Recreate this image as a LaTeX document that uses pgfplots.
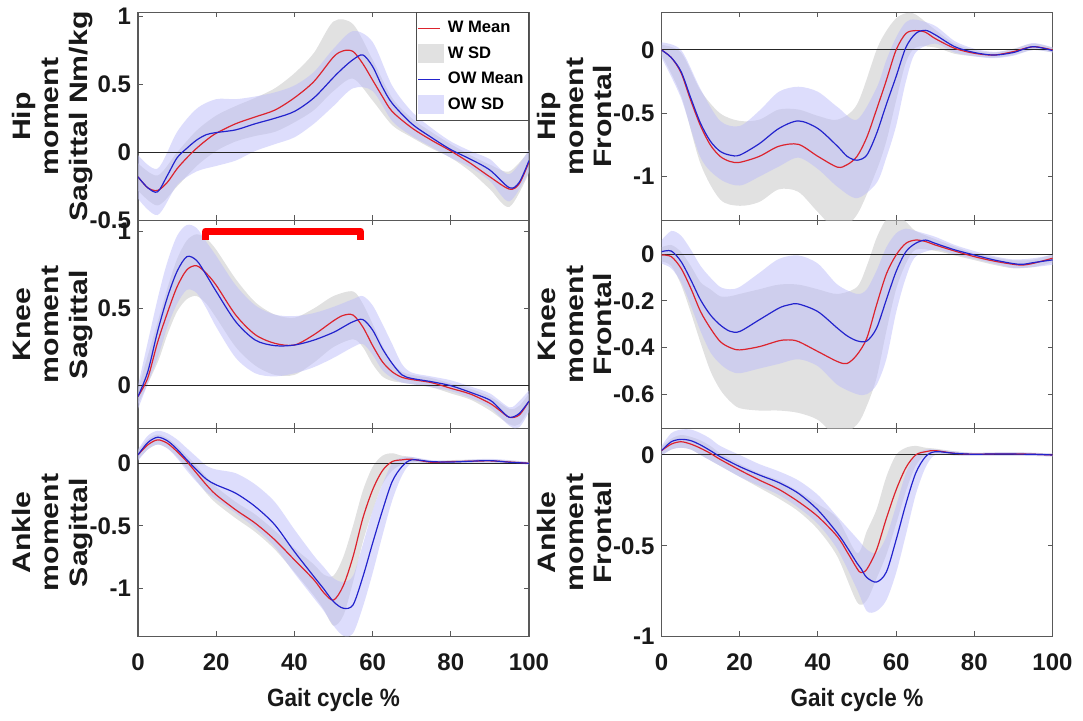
\documentclass[border=0pt]{standalone}
\usepackage{fontspec}
\setmainfont{Liberation Sans}
\newfontfamily\xlabfont{Liberation Sans}[FakeStretch=0.9]
\newfontfamily\ylabfont{Liberation Sans}[FakeStretch=1.2]
\usepackage{pgfplots}
\pgfplotsset{compat=1.18}
\usepackage{pgfplotstable}
\usepgfplotslibrary{fillbetween}
\usetikzlibrary{calc}

\definecolor{wmean}{RGB}{220,35,45}
\definecolor{omean}{RGB}{35,35,205}
\definecolor{wsd}{RGB}{195,195,195}
\definecolor{osd}{RGB}{188,188,249}
\definecolor{wsdL}{RGB}{225,225,225}
\definecolor{osdL}{RGB}{221,221,252}

% ---------------- Hip sagittal
\pgfplotstableread{
x w o
0 -0.18 -0.18
2.5 -0.26 -0.26
5 -0.28 -0.29
7.5 -0.22 -0.17
10 -0.12 -0.04
12.5 -0.04 0.03
15 0.03 0.09
17.5 0.09 0.13
20 0.14 0.145
25 0.21 0.165
30 0.26 0.21
35 0.31 0.25
40 0.40 0.30
45 0.52 0.40
50 0.70 0.55
52.5 0.745 0.62
55 0.74 0.68
57.5 0.65 0.715
60 0.53 0.63
62.5 0.41 0.48
65 0.30 0.36
70 0.18 0.21
75 0.09 0.11
80 0.01 0.02
85 -0.08 -0.05
90 -0.18 -0.13
95 -0.27 -0.26
97.5 -0.23 -0.22
100 -0.07 -0.06
}\meanHS
\pgfplotstableread{
x wlo whi olo ohi
0 -0.28 -0.08 -0.34 -0.02
5 -0.39 -0.17 -0.46 -0.12
10 -0.25 0.00 -0.24 0.15
15 -0.10 0.16 -0.14 0.32
20 0.01 0.27 -0.10 0.39
25 0.08 0.34 -0.06 0.39
30 0.12 0.40 0.01 0.41
35 0.15 0.47 0.06 0.44
40 0.22 0.58 0.11 0.49
45 0.31 0.73 0.21 0.59
50 0.45 0.96 0.34 0.76
55 0.54 0.94 0.47 0.89
60 0.38 0.68 0.45 0.81
65 0.20 0.40 0.23 0.49
70 0.11 0.25 0.12 0.30
75 0.03 0.15 0.04 0.18
80 -0.04 0.06 -0.04 0.08
85 -0.14 -0.02 -0.11 0.01
90 -0.27 -0.09 -0.21 -0.05
95 -0.40 -0.14 -0.36 -0.16
100 -0.15 0.01 -0.14 0.02
}\bandHS

% ---------------- Hip frontal
\pgfplotstableread{
x w o
0 0 0
2.5 -0.06 -0.06
5 -0.18 -0.17
7.5 -0.40 -0.38
10 -0.60 -0.58
12.5 -0.75 -0.72
15 -0.84 -0.80
17.5 -0.88 -0.83
20 -0.887 -0.83
25 -0.84 -0.74
30 -0.76 -0.62
35 -0.745 -0.56
40 -0.84 -0.62
45 -0.925 -0.76
47.5 -0.905 -0.84
50 -0.84 -0.87
52.5 -0.69 -0.83
55 -0.47 -0.66
57.5 -0.24 -0.43
60 0.0 -0.21
62.5 0.13 0.02
65 0.153 0.13
67.5 0.14 0.155
70 0.09 0.12
75 0.013 0.026
80 -0.026 -0.02
85 -0.04 -0.04
90 -0.013 -0.02
95 0.026 0.026
100 0 -0.005
}\meanHF
\pgfplotstableread{
x wlo whi olo ohi
0 -0.04 0.04 -0.06 0.06
5 -0.36 -0.02 -0.38 0.0
10 -0.90 -0.32 -0.85 -0.31
15 -1.18 -0.50 -1.02 -0.56
20 -1.23 -0.56 -1.07 -0.60
25 -1.20 -0.55 -1.00 -0.48
30 -1.10 -0.47 -0.92 -0.33
35 -1.12 -0.47 -0.85 -0.29
40 -1.28 -0.52 -0.94 -0.33
45 -1.42 -0.55 -1.08 -0.45
50 -1.30 -0.43 -1.17 -0.55
55 -0.95 0.00 -1.05 -0.30
57.5 -0.72 0.15 -0.85 -0.08
60 -0.40 0.25 -0.60 0.10
62.5 -0.10 0.29 -0.25 0.22
65 0.02 0.28 -0.02 0.24
70 0.02 0.16 0.05 0.19
75 -0.03 0.05 -0.02 0.07
80 -0.05 0.0 -0.05 0.01
85 -0.06 -0.02 -0.065 -0.015
90 -0.04 0.01 -0.045 0.005
95 0.0 0.05 0.0 0.055
100 -0.02 0.02 -0.02 0.02
}\bandHF

% ---------------- Knee sagittal
\pgfplotstableread{
x w o
0 -0.07 -0.07
2.5 0.05 0.09
5 0.28 0.35
7.5 0.47 0.57
10 0.64 0.74
12.5 0.75 0.835
15 0.776 0.81
17.5 0.726 0.715
20 0.65 0.61
25 0.457 0.414
30 0.33 0.295
35 0.274 0.259
40 0.263 0.263
45 0.33 0.295
50 0.42 0.345
52.5 0.455 0.38
55 0.457 0.414
57.5 0.38 0.428
60 0.26 0.36
62.5 0.155 0.24
65 0.09 0.144
67.5 0.054 0.07
70 0.04 0.047
75 0.02 0.026
80 -0.017 0.0
85 -0.054 -0.043
90 -0.114 -0.093
92.5 -0.16 -0.15
95 -0.205 -0.205
97.5 -0.19 -0.18
100 -0.10 -0.10
}\meanKS
\pgfplotstableread{
x wlo whi olo ohi
0 -0.12 -0.02 -0.15 0.0
5 0.15 0.41 0.18 0.56
7.5 0.33 0.63 0.38 0.80
10 0.48 0.82 0.53 0.97
12.5 0.56 0.94 0.62 1.04
15 0.58 0.98 0.60 1.02
17.5 0.53 0.95 0.50 0.93
20 0.44 0.88 0.38 0.84
25 0.25 0.69 0.18 0.65
30 0.13 0.54 0.08 0.52
35 0.07 0.46 0.06 0.46
40 0.07 0.44 0.08 0.45
45 0.15 0.50 0.12 0.47
50 0.25 0.58 0.18 0.51
55 0.30 0.61 0.25 0.56
57.5 0.25 0.53 0.27 0.58
60 0.14 0.40 0.20 0.52
62.5 0.06 0.26 0.10 0.40
65 0.03 0.15 0.05 0.27
67.5 0.02 0.09 0.02 0.14
70 0.01 0.07 0.01 0.085
75 -0.01 0.05 -0.01 0.06
80 -0.05 0.015 -0.035 0.035
85 -0.09 -0.02 -0.08 -0.005
90 -0.16 -0.07 -0.14 -0.05
95 -0.25 -0.15 -0.26 -0.14
97.5 -0.25 -0.13 -0.27 -0.10
100 -0.15 -0.05 -0.17 -0.03
}\bandKS

% ---------------- Knee frontal
\pgfplotstableread{
x w o
0 -0.003 0.011
2.5 -0.01 0.014
5 -0.06 -0.031
7.5 -0.146 -0.11
10 -0.246 -0.196
12.5 -0.317 -0.26
15 -0.374 -0.303
17.5 -0.40 -0.33
20 -0.41 -0.331
25 -0.396 -0.281
30 -0.371 -0.231
32.5 -0.367 -0.217
35 -0.374 -0.213
40 -0.417 -0.246
45 -0.46 -0.317
47.5 -0.468 -0.35
50 -0.431 -0.371
52.5 -0.36 -0.372
55 -0.217 -0.317
57.5 -0.085 -0.195
60 -0.003 -0.074
62.5 0.047 0.011
65 0.061 0.047
67.5 0.055 0.061
70 0.04 0.047
75 0.014 0.019
80 -0.01 -0.003
85 -0.029 -0.024
90 -0.043 -0.04
92.5 -0.046 -0.043
95 -0.039 -0.036
100 -0.017 -0.024
}\meanKF
\pgfplotstableread{
x wlo whi olo ohi
0 -0.03 0.03 -0.04 0.06
2.5 -0.05 0.04 -0.06 0.10
5 -0.13 0.01 -0.12 0.08
7.5 -0.25 -0.05 -0.22 0.02
10 -0.38 -0.12 -0.33 -0.05
12.5 -0.50 -0.15 -0.42 -0.10
15 -0.58 -0.18 -0.47 -0.14
17.5 -0.63 -0.18 -0.50 -0.15
20 -0.66 -0.17 -0.51 -0.14
25 -0.67 -0.15 -0.49 -0.08
30 -0.67 -0.13 -0.47 -0.02
35 -0.68 -0.13 -0.45 -0.005
40 -0.71 -0.15 -0.48 -0.04
45 -0.78 -0.17 -0.56 -0.13
50 -0.73 -0.14 -0.60 -0.17
52.5 -0.65 -0.05 -0.60 -0.15
55 -0.53 0.07 -0.56 -0.07
57.5 -0.33 0.15 -0.45 0.03
60 -0.15 0.17 -0.25 0.09
62.5 -0.04 0.14 -0.10 0.11
65 0.02 0.10 -0.01 0.10
70 0.015 0.065 0.02 0.075
75 -0.005 0.033 0.0 0.04
80 -0.025 0.005 -0.02 0.014
85 -0.045 -0.013 -0.04 -0.008
90 -0.06 -0.026 -0.058 -0.022
95 -0.055 -0.023 -0.055 -0.017
100 -0.035 0.0 -0.045 -0.003
}\bandKF

% ---------------- Ankle sagittal
\pgfplotstableread{
x w o
0 0.067 0.067
2.5 0.147 0.165
5 0.187 0.208
7.5 0.16 0.18
10 0.093 0.112
12.5 0.013 0.027
15 -0.08 -0.053
17.5 -0.173 -0.128
20 -0.253 -0.173
25 -0.373 -0.24
30 -0.48 -0.347
35 -0.613 -0.493
40 -0.773 -0.707
45 -0.933 -0.907
47.5 -1.035 -1.005
50 -1.095 -1.107
52.5 -0.98 -1.16
55 -0.747 -1.133
57.5 -0.44 -0.91
60 -0.213 -0.64
62.5 -0.06 -0.38
65 0.013 -0.147
67.5 0.027 -0.027
70 0.032 0.027
75 0.008 0.013
80 0.013 0.01
85 0.016 0.016
90 0.019 0.021
95 0.01 0.008
100 0 0
}\meanAS
\pgfplotstableread{
x wlo whi olo ohi
0 0.03 0.10 0.02 0.11
2.5 0.11 0.19 0.11 0.22
5 0.15 0.23 0.15 0.26
7.5 0.12 0.20 0.12 0.24
10 0.05 0.14 0.04 0.19
12.5 -0.04 0.06 -0.06 0.12
15 -0.14 -0.02 -0.15 0.05
17.5 -0.24 -0.11 -0.23 -0.02
20 -0.32 -0.19 -0.29 -0.05
25 -0.44 -0.31 -0.40 -0.08
30 -0.55 -0.41 -0.52 -0.17
35 -0.69 -0.54 -0.67 -0.31
40 -0.87 -0.68 -0.88 -0.53
45 -1.06 -0.81 -1.08 -0.74
47.5 -1.17 -0.89 -1.18 -0.83
50 -1.30 -0.90 -1.30 -0.92
52.5 -1.22 -0.75 -1.38 -0.95
55 -0.95 -0.50 -1.36 -0.90
57.5 -0.63 -0.22 -1.15 -0.65
60 -0.38 -0.03 -0.88 -0.38
62.5 -0.17 0.06 -0.58 -0.17
65 -0.06 0.08 -0.30 0.0
67.5 -0.01 0.06 -0.10 0.045
70 0.01 0.05 0.0 0.05
75 -0.005 0.02 0.0 0.025
80 0.0 0.025 0.0 0.02
90 0.005 0.03 0.005 0.035
100 -0.01 0.01 -0.01 0.01
}\bandAS

% ---------------- Ankle frontal
\pgfplotstableread{
x w o
0 0.024 0.024
2.5 0.06 0.073
5 0.073 0.086
7.5 0.06 0.079
10 0.037 0.055
12.5 0.009 0.024
15 -0.024 -0.009
20 -0.083 -0.064
25 -0.138 -0.11
30 -0.189 -0.152
35 -0.257 -0.211
40 -0.339 -0.303
45 -0.45 -0.431
47.5 -0.535 -0.51
50 -0.625 -0.596
51 -0.648 -0.625
52.5 -0.63 -0.675
55 -0.523 -0.70
57.5 -0.35 -0.645
60 -0.193 -0.468
62.5 -0.07 -0.27
65 0.0 -0.101
67.5 0.018 -0.01
70 0.024 0.018
75 0.009 0.009
80 0.004 0.004
85 0.006 0.006
90 0.006 0.005
95 0.004 0.004
100 0 0
}\meanAF
\pgfplotstableread{
x wlo whi olo ohi
0 0.0 0.045 -0.005 0.05
2.5 0.03 0.09 0.03 0.12
5 0.04 0.11 0.04 0.14
7.5 0.03 0.10 0.03 0.14
10 0.0 0.08 0.0 0.12
12.5 -0.03 0.05 -0.03 0.09
15 -0.06 0.01 -0.06 0.05
20 -0.12 -0.05 -0.12 0.0
25 -0.18 -0.10 -0.17 -0.05
30 -0.24 -0.14 -0.22 -0.09
35 -0.31 -0.20 -0.29 -0.14
40 -0.41 -0.27 -0.38 -0.22
45 -0.56 -0.35 -0.52 -0.34
50 -0.81 -0.54 -0.74 -0.46
52.5 -0.80 -0.42 -0.86 -0.52
55 -0.68 -0.30 -0.86 -0.54
57.5 -0.55 -0.12 -0.80 -0.45
60 -0.38 0.0 -0.65 -0.28
62.5 -0.20 0.04 -0.44 -0.10
65 -0.06 0.05 -0.22 0.0
67.5 0.0 0.04 -0.07 0.03
70 0.01 0.035 0.0 0.03
75 -0.002 0.02 -0.002 0.02
80 -0.004 0.012 -0.004 0.012
90 -0.003 0.015 -0.003 0.015
100 -0.008 0.008 -0.008 0.008
}\bandAF

\newcommand{\drawpanel}[3]{%
  \addplot[draw=none, forget plot, smooth, name path=#3wl] table[x=x,y=wlo]{#1};
  \addplot[draw=none, forget plot, smooth, name path=#3wh] table[x=x,y=whi]{#1};
  \addplot[fill=wsd, fill opacity=0.5, draw=none, forget plot] fill between[of=#3wl and #3wh];
  \addplot[draw=none, forget plot, smooth, name path=#3ol] table[x=x,y=olo]{#1};
  \addplot[draw=none, forget plot, smooth, name path=#3oh] table[x=x,y=ohi]{#1};
  \addplot[fill=osd, fill opacity=0.5, draw=none, forget plot] fill between[of=#3ol and #3oh];
  \addplot[black!85, line width=0.5pt, forget plot] coordinates {(0,0) (100,0)};
  \addplot[wmean, line width=0.6pt, smooth, forget plot] table[x=x,y=w]{#2};
  \addplot[omean, line width=0.6pt, smooth, forget plot] table[x=x,y=o]{#2};
}

\pgfplotsset{
  panel/.style={
    scale only axis, width=195.5pt, height=104pt,
    anchor=south west,
    xmin=0, xmax=100, xtick={0,20,40,60,80,100},
    tick align=inside, major tick length=2.5pt,
    axis line style={black!65, line width=0.6pt},
    every tick/.style={black!65, line width=0.5pt},
    /pgf/number format/assume math mode=true,
    ticklabel style={font=\fontsize{12}{14}\selectfont\bfseries, text=black!90},
    xticklabel style={yshift=-5pt},
    ylabel style={font=\ylabfont\fontsize{12.6}{14.2}\selectfont\bfseries, align=center, inner sep=0pt, anchor=south, text=black!90},
  },
  leftcol/.style={panel, ylabel style={at={($(rel axis cs:0,0.5)+(-22.5pt,0pt)$)}}},
  rightcol/.style={panel, ylabel style={at={($(rel axis cs:0,0.5)+(-24.5pt,0pt)$)}}},
  notop/.style={xticklabels={}},
  bottomrow/.style={xlabel={Gait cycle \%},
    xlabel style={font=\xlabfont\fontsize{12.5}{14}\selectfont\bfseries, anchor=base, text=black!90,
      at={($(rel axis cs:0.5,0)+(0pt,-35pt)$)}}},
}

\begin{document}
\begin{tikzpicture}

% Hip sagittal
\begin{axis}[leftcol, notop, at={(69pt,250.25pt)},
  ymin=-0.5, ymax=1.026, ytick={-0.5,0,0.5,1},
  ylabel={Hip\\moment\\Sagittal Nm/kg},
  legend style={at={(rel axis cs:1,1)}, anchor=north east, draw=black!70, fill=white,
    line width=0.5pt, font=\fontsize{8.3}{9.5}\selectfont\bfseries,
    cells={anchor=west}, row sep=1.5pt, inner xsep=0.5pt, inner ysep=2pt}]
\drawpanel{\bandHS}{\meanHS}{hs}
\addlegendimage{legend image code/.code={\draw[wmean, line width=0.6pt] (0pt,0pt) -- (11pt,0pt);}}
\addlegendentry{W Mean}
\addlegendimage{legend image code/.code={\fill[wsdL] (0pt,-4.5pt) rectangle (12.5pt,4.5pt);}}
\addlegendentry{W SD}
\addlegendimage{legend image code/.code={\draw[omean, line width=0.6pt] (0pt,0pt) -- (11pt,0pt);}}
\addlegendentry{OW Mean}
\addlegendimage{legend image code/.code={\fill[osdL] (0pt,-4.5pt) rectangle (12.5pt,4.5pt);}}
\addlegendentry{OW SD}
\end{axis}

% Hip frontal
\begin{axis}[rightcol, notop, at={(330.75pt,250.25pt)},
  ymin=-1.346, ymax=0.296, ytick={-1,-0.5,0},
  ylabel={Hip\\moment\\Frontal}]
\drawpanel{\bandHF}{\meanHF}{hf}
\end{axis}

% Knee sagittal
\begin{axis}[leftcol, notop, at={(69pt,146.25pt)},
  ymin=-0.277, ymax=1.069, ytick={0,0.5,1},
  ylabel={Knee\\moment\\Sagittal}]
\drawpanel{\bandKS}{\meanKS}{ks}
\addplot[red, line width=3.5pt, line join=round, forget plot] coordinates {(17.3,0.945) (17.3,1.0) (56.9,1.0) (56.9,0.945)};
\end{axis}

% Knee frontal
\begin{axis}[rightcol, notop, at={(330.75pt,146.25pt)},
  ymin=-0.747, ymax=0.145, ytick={-0.6,-0.4,-0.2,0},
  ylabel={Knee\\moment\\Frontal}]
\drawpanel{\bandKF}{\meanKF}{kf}
\end{axis}

% Ankle sagittal
\begin{axis}[leftcol, bottomrow, at={(69pt,42.25pt)},
  ymin=-1.386, ymax=0.278, ytick={-1,-0.5,0},
  ylabel={Ankle\\moment\\Sagittal}]
\drawpanel{\bandAS}{\meanAS}{as}
\end{axis}

% Ankle frontal
\begin{axis}[rightcol, bottomrow, at={(330.75pt,42.25pt)},
  ymin=-1, ymax=0.146, ytick={-1,-0.5,0},
  ylabel={Ankle\\moment\\Frontal}]
\drawpanel{\bandAF}{\meanAF}{af}
\end{axis}

\path (0,0) rectangle (541.5pt,360.5pt);
\end{tikzpicture}
\end{document}
